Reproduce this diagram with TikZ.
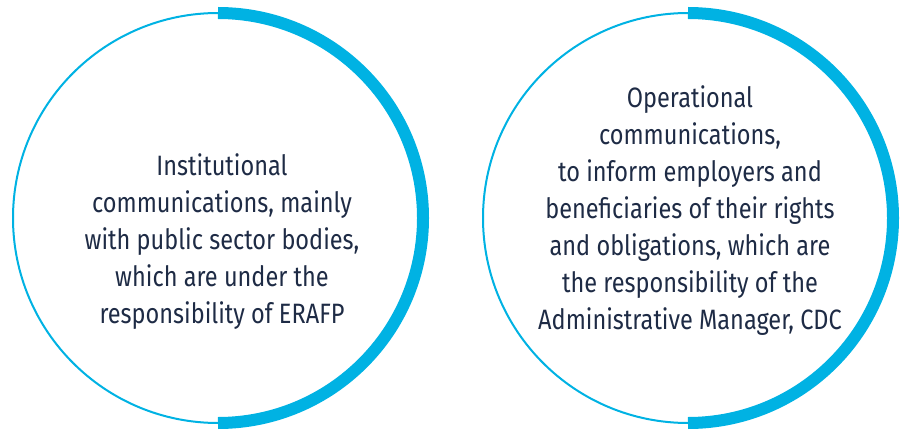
\documentclass[tikz,border=0pt]{standalone}
\usepackage{fontspec}
\setmainfont[FakeStretch=0.84]{Fira Sans}
\definecolor{ringblue}{HTML}{00B2E3}
\definecolor{ink}{HTML}{1E2B45}
\begin{document}
\begin{tikzpicture}[x=1pt,y=1pt,
  ring/.style={circle, draw=ringblue, line width=2pt, minimum size=410pt, inner sep=0pt, outer sep=0pt},
  band/.style={draw=ringblue, line width=12pt},
  txt/.style={align=center, text=ink, inner sep=0pt, font=\fontsize{28}{37}\selectfont}]
\useasboundingbox (0,0) rectangle (901,429);
\node[ring] (L) at (218,211) {};
\node[ring] (R) at (688,211) {};
\draw[band] (L.north) arc[start angle=90, end angle=-90, radius=205pt];
\draw[band] (R.north) arc[start angle=90, end angle=-90, radius=205pt];
\node[txt] (Lt) at (222,187) {Institutional\\communications, mainly\\with public sector bodies,\\which are under the\\responsibility of ERAFP};
\node[txt] (Rt) at (690,218) {Operational\\communications,\\to inform employers and\\beneficiaries of their rights\\and obligations, which are\\the responsibility of the\\Administrative Manager, CDC};
\end{tikzpicture}
\end{document}
